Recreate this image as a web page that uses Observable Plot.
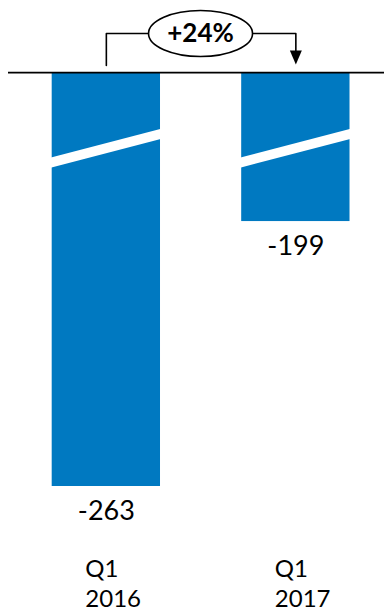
<!DOCTYPE html>
<html>
<head>
<meta charset="utf-8">
<script src="https://cdn.jsdelivr.net/npm/d3@7"></script>
<script src="https://cdn.jsdelivr.net/npm/@observablehq/plot@0.6"></script>
<style>
  html, body { margin: 0; padding: 0; background: #fff; }
  #chart svg { display: block; }
</style>
</head>
<body>
<div id="chart"></div>
<script>
// ---- data ----
const quarters = ["Q1", "Q1"];
const years = ["2016", "2017"];
const values = [-263, -199];
const changeLabel = "+24%";
const axisBreak = 163; // units cut out of the bars by the broken axis

const rows = years.map((y, i) => ({
  i,
  label: quarters[i] + "\n" + y,
  value: values[i],
  shown: values[i] + axisBreak,
  text: String(values[i])
}));

const halfBar = 0.2858;
const blue = "#0079c1";

const ellipse = {
  draw(ctx) {
    const rx = 52, ry = 23, k = 0.5523;
    ctx.moveTo(-rx, 0);
    ctx.bezierCurveTo(-rx, -k * ry, -k * rx, -ry, 0, -ry);
    ctx.bezierCurveTo(k * rx, -ry, rx, -k * ry, rx, 0);
    ctx.bezierCurveTo(rx, k * ry, k * rx, ry, 0, ry);
    ctx.bezierCurveTo(-k * rx, ry, -rx, k * ry, -rx, 0);
    ctx.closePath();
  }
};
const arrowHead = {
  draw(ctx) {
    ctx.moveTo(-6, -7);
    ctx.lineTo(6, -7);
    ctx.lineTo(0, 7);
    ctx.closePath();
  }
};

const chart = Plot.plot({
  width: 385,
  height: 613,
  marginLeft: 8,
  marginRight: 1,
  marginTop: 0,
  marginBottom: 0,
  style: { fontFamily: "Lato, sans-serif", background: "#fff" },
  x: { type: "linear", domain: [0, 1], range: [105.85, 295.35], axis: null },
  y: { domain: [-100, 17.4], range: [486, 0], axis: null },
  marks: [
    Plot.rectY(rows, {
      x1: d => d.i - halfBar, x2: d => d.i + halfBar,
      y1: 0, y2: "shown", fill: blue
    }),
    // axis-break stripes
    Plot.link(rows, {
      x1: d => d.i - halfBar - 0.02, x2: d => d.i + halfBar + 0.02,
      y1: -21.9, y2: -14.6,
      stroke: "#fff", strokeWidth: 9.7
    }),
    Plot.ruleY([0], { stroke: "#000", strokeWidth: 1.8 }),
    // value labels
    Plot.text(rows, {
      x: "i", y: "shown", text: "text",
      lineAnchor: "top", dy: 14, fontSize: 27, fill: "#000"
    }),
    // category labels
    Plot.text(rows, {
      x: "i", text: "label", frameAnchor: "bottom",
      textAnchor: "start", lineAnchor: "bottom", dx: -21, dy: -7,
      fontSize: 24, lineHeight: 1.22, fill: "#000"
    }),
    // change bracket
    Plot.line([{x: 0, y: 1.7}, {x: 0, y: 9.43}, {x: 1, y: 9.43}, {x: 1, y: 5.0}], {
      x: "x", y: "y", stroke: "#000", strokeWidth: 1.6, curve: "linear"
    }),
    Plot.dot([{x: 1, y: 3.62}], {
      x: "x", y: "y", symbol: arrowHead, r: 6,
      fill: "#000", stroke: "none"
    }),
    Plot.dot([{x: 0.497, y: 9.43}], {
      x: "x", y: "y", symbol: ellipse, r: 20,
      fill: "#fff", stroke: "#000", strokeWidth: 1.6
    }),
    Plot.text([changeLabel], {
      x: () => 0.497, y: () => 9.5, text: d => d,
      fontSize: 26, fontWeight: "bold", fill: "#000"
    })
  ]
});

document.getElementById("chart").appendChild(chart);
</script>
</body>
</html>
